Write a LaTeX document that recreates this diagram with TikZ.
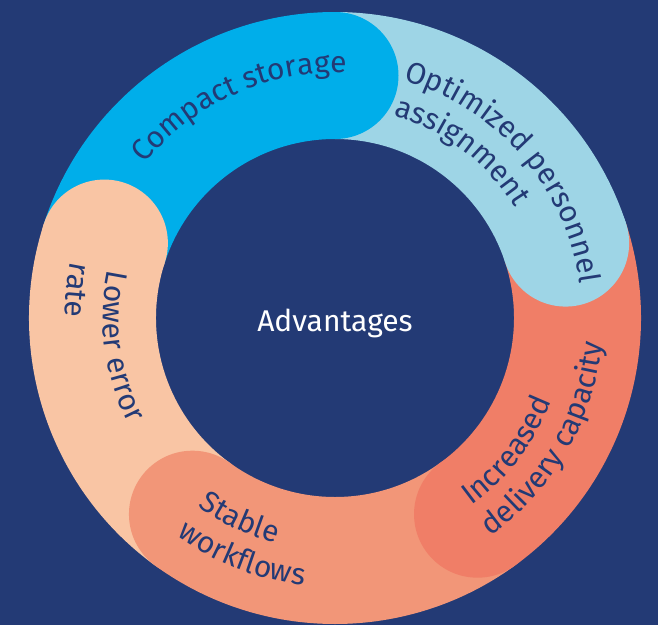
\documentclass[tikz,border=0pt]{standalone}
\usepackage{fontspec}
\setmainfont{Fira Sans}
\usetikzlibrary{decorations.text}
\definecolor{navy}{HTML}{233A75}
\definecolor{lowc}{HTML}{F9C5A4}
\definecolor{compc}{HTML}{00AEEA}
\definecolor{optc}{HTML}{9ED5E6}
\definecolor{incc}{HTML}{F07E67}
\definecolor{stabc}{HTML}{F29678}
\newcommand\ringfont{\fontsize{30}{36}\selectfont}
\begin{document}
\begin{tikzpicture}[x=1pt,y=1pt,
	ringtext/.style={decorate,decoration={text along path,text color=navy,text={|\ringfont|#1}}}]
	\useasboundingbox (-335,-307) rectangle (323,318);
	\fill[navy] (-335,-307) rectangle (323,318);
	% bands, then the round ends on top
	\foreach \a/\b/\c in {234/162/lowc,162/90/compc,90/18/optc,18/-54/incc,-54/-126/stabc}
		\fill[\c] (\a:306) arc[start angle=\a,end angle=\b,radius=306]--(\b:179) arc[start angle=\b,end angle=\a,radius=179]--cycle;
	\foreach \b/\c in {162/lowc,90/compc,18/optc,-54/incc,-126/stabc}
		\fill[\c] (\b:242.5) circle[radius=63.5];
	\path[ringtext={Compact storage}] (141:245) arc[start angle=141,end angle=60,radius=245];
	\path[ringtext={Optimized personnel}] (74:247) arc[start angle=74,end angle=-5,radius=247];
	\path[ringtext={assignment}] (74:211) arc[start angle=74,end angle=10,radius=211];
	\path[ringtext={Increased}] (-54:232) arc[start angle=-54,end angle=0,radius=232];
	\path[ringtext={delivery capacity}] (-54.5:268) arc[start angle=-54.5,end angle=10,radius=268];
	\path[ringtext={Stable}] (-126:233) arc[start angle=-126,end angle=-90,radius=233];
	\path[ringtext={workflows}] (-126:269) arc[start angle=-126,end angle=-80,radius=269];
	\path[ringtext={Lower error}] (168:232) arc[start angle=168,end angle=220,radius=232];
	\path[ringtext={rate}] (168:270) arc[start angle=168,end angle=200,radius=270];
	\node[text=white,font=\ringfont,anchor=base] (adv) at (0,-13) {Advantages};
\end{tikzpicture}
\end{document}
